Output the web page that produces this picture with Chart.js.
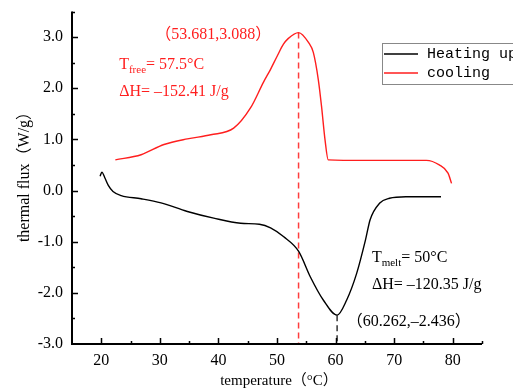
<!DOCTYPE html>
<html>
<head>
<meta charset="utf-8">
<script src="https://cdn.jsdelivr.net/npm/chart.js@4"></script>
<style>
  html, body { margin: 0; padding: 0; background: #fff; }
  #wrap { width: 513px; height: 391px; }
</style>
</head>
<body>
<div id="wrap"><canvas id="dscChart" width="513" height="391"></canvas></div>
<script>
// DSC curves
const heatX = [19.8, 20.1, 20.6, 21.2, 22.0, 23.4, 26.8, 30.2, 34.7, 39.2, 43.8, 47.0, 48.9, 51.1, 53.7, 55.7, 57.9, 60.262, 61.9, 63.6, 65.1, 65.9, 67.5, 69.2, 72.0, 78.0];
const heatY = [0.28, 0.36, 0.25, 0.10, -0.02, -0.10, -0.16, -0.24, -0.41, -0.54, -0.64, -0.66, -0.73, -0.90, -1.19, -1.69, -2.14, -2.436, -2.14, -1.62, -0.97, -0.57, -0.25, -0.15, -0.12, -0.12];

const coolX = [22.4, 26.8, 30.7, 34.7, 38.7, 42.6, 45.5, 47.7, 48.9, 50.0, 51.1, 51.9, 53.681, 55.4, 56.2, 57.05, 57.6, 58.2, 58.75, 65.0, 75.5, 77.7, 79.2, 79.8];
const coolY = [0.60, 0.70, 0.90, 1.01, 1.09, 1.22, 1.62, 2.12, 2.37, 2.62, 2.86, 2.97, 3.088, 2.89, 2.70, 2.17, 1.65, 0.99, 0.60, 0.59, 0.59, 0.50, 0.34, 0.14];

const coolPeak = [53.681, 3.088];
const heatPeak = [60.262, -2.436];

const xRange = [15, 85];
const yRange = [-3.0, 3.5];
const xLabels = [20, 30, 40, 50, 60, 70, 80];
const yLabels = [-3, -2, -1, 0, 1, 2, 3];

const seriesNames = ['Heating up', 'cooling'];
const RED = 'rgb(255, 30, 30)';
const SERIF = '"Liberation Serif", "Noto Sans CJK SC", serif';

function toPoints(xs, ys) {
    return xs.map((x, i) => ({ x: x, y: ys[i] }));
}

// subscript text like T_free
function drawSubText(ctx, x, y, base, sub, rest, color) {
    ctx.fillStyle = color;
    ctx.textBaseline = 'alphabetic';
    ctx.textAlign = 'left';
    ctx.font = '16px ' + SERIF;
    ctx.fillText(base, x, y);
    let w = ctx.measureText(base).width;
    ctx.font = '11px ' + SERIF;
    ctx.fillText(sub, x + w, y + 4);
    w += ctx.measureText(sub).width;
    ctx.font = '16px ' + SERIF;
    ctx.fillText(rest, x + w, y);
}

const decorPlugin = {
    id: 'decor',
    afterDraw(chart) {
        const ctx = chart.ctx;
        const xs = chart.scales.x;
        const ys = chart.scales.y;
        const area = chart.chartArea;
        ctx.save();

        // axes
        ctx.strokeStyle = '#000';
        ctx.lineWidth = 2;
        ctx.beginPath();
        ctx.moveTo(area.left, area.top);
        ctx.lineTo(area.left, area.bottom);
        ctx.lineTo(area.right, area.bottom);
        ctx.stroke();

        // inward ticks
        ctx.lineWidth = 1.5;
        ctx.beginPath();
        for (let v = xRange[0] + 5; v <= xRange[1]; v += 5) {
            const px = Math.round(xs.getPixelForValue(v)) + 0.5;
            const len = v % 10 === 0 ? 6 : 3;
            ctx.moveTo(px, area.bottom);
            ctx.lineTo(px, area.bottom - len);
        }
        for (let v = yRange[0] + 0.5; v <= yRange[1] + 0.001; v += 0.5) {
            const py = Math.round(ys.getPixelForValue(v)) + 0.5;
            const len = Math.abs(v - Math.round(v)) < 0.01 ? 6 : 3;
            ctx.moveTo(area.left, py);
            ctx.lineTo(area.left + len, py);
        }
        ctx.stroke();

        // axis titles
        ctx.fillStyle = '#000';
        ctx.font = '15px ' + SERIF;
        ctx.textAlign = 'center';
        ctx.textBaseline = 'middle';
        ctx.fillText('temperature（°C）', 279, 381);
        ctx.save();
        ctx.translate(25, 173);
        ctx.rotate(-Math.PI / 2);
        ctx.font = '16px ' + SERIF;
        ctx.fillText('thermal flux（W/g）', 0, 0);
        ctx.restore();

        // annotations
        ctx.font = '16px ' + SERIF;
        ctx.textAlign = 'left';
        ctx.textBaseline = 'middle';
        ctx.fillStyle = RED;
        ctx.fillText('（' + coolPeak[0] + ',' + coolPeak[1] + '）', xs.getPixelForValue(29.2), ys.getPixelForValue(3.04));
        drawSubText(ctx, xs.getPixelForValue(23.05), ys.getPixelForValue(2.38), 'T', 'free', '= 57.5°C', RED);
        ctx.textBaseline = 'middle';
        ctx.fillText('ΔH= –152.41 J/g', xs.getPixelForValue(23.05), ys.getPixelForValue(1.94));

        ctx.fillStyle = '#000';
        drawSubText(ctx, xs.getPixelForValue(66.2), ys.getPixelForValue(-1.40), 'T', 'melt', '= 50°C', '#000');
        ctx.textBaseline = 'middle';
        ctx.fillText('ΔH= –120.35 J/g', xs.getPixelForValue(66.2), ys.getPixelForValue(-1.85));
        ctx.fillText('（' + heatPeak[0] + ',–' + Math.abs(heatPeak[1]) + '）', xs.getPixelForValue(61.9), ys.getPixelForValue(-2.57));

        // legend box
        ctx.strokeStyle = '#888';
        ctx.lineWidth = 1;
        ctx.strokeRect(382.5, 43.5, 150, 41);
        const colors = ['#000', RED];
        const rows = [54, 73];
        ctx.font = '15px "Liberation Mono", monospace';
        ctx.textBaseline = 'middle';
        ctx.lineWidth = 1.5;
        seriesNames.forEach((name, i) => {
            ctx.strokeStyle = colors[i];
            ctx.beginPath();
            ctx.moveTo(384, rows[i]);
            ctx.lineTo(418, rows[i]);
            ctx.stroke();
            ctx.fillStyle = '#000';
            ctx.fillText(name, 427, rows[i]);
        });

        ctx.restore();
    }
};

const ctx = document.getElementById('dscChart').getContext('2d');
new Chart(ctx, {
    type: 'scatter',
    data: {
        datasets: [
            {
                label: seriesNames[0],
                data: toPoints(heatX, heatY),
                showLine: true,
                borderColor: '#000',
                borderWidth: 1.4,
                pointRadius: 0,
                cubicInterpolationMode: 'monotone'
            },
            {
                label: seriesNames[1],
                data: toPoints(coolX, coolY),
                showLine: true,
                borderColor: RED,
                borderWidth: 1.4,
                pointRadius: 0,
                cubicInterpolationMode: 'monotone'
            },
            {
                label: 'cool peak',
                data: [{ x: coolPeak[0], y: coolPeak[1] }, { x: coolPeak[0], y: yRange[0] }],
                showLine: true,
                borderColor: 'rgb(255, 60, 60)',
                borderWidth: 1.5,
                borderDash: [6, 4],
                pointRadius: 0
            },
            {
                label: 'heat peak',
                data: [{ x: heatPeak[0], y: heatPeak[1] }, { x: heatPeak[0], y: yRange[0] }],
                showLine: true,
                borderColor: '#333',
                borderWidth: 1.5,
                borderDash: [6, 4],
                pointRadius: 0
            }
        ]
    },
    options: {
        responsive: false,
        animation: false,
        layout: { padding: { left: 0, top: 11.5, right: 31, bottom: 0 } },
        plugins: {
            legend: { display: false },
            tooltip: { enabled: false }
        },
        scales: {
            x: {
                type: 'linear',
                min: xRange[0],
                max: xRange[1],
                grid: { display: false, drawTicks: false },
                border: { display: false },
                afterFit: (scale) => {
                    scale.height = 47;
                    scale.paddingLeft = 0;
                    scale.paddingRight = 0;
                },
                ticks: {
                    stepSize: 5,
                    padding: 7,
                    color: '#000',
                    font: { family: SERIF, size: 16 },
                    callback: (v) => xLabels.includes(v) ? String(v) : ''
                }
            },
            y: {
                min: yRange[0],
                max: yRange[1],
                grid: { display: false, drawTicks: false },
                border: { display: false },
                afterFit: (scale) => {
                    scale.width = 72;
                    scale.paddingTop = 0;
                    scale.paddingBottom = 0;
                },
                ticks: {
                    stepSize: 0.5,
                    padding: 9,
                    color: '#000',
                    font: { family: SERIF, size: 16 },
                    callback: (v) => yLabels.includes(v) ? v.toFixed(1) : ''
                }
            }
        }
    },
    plugins: [decorPlugin]
});
</script>
</body>
</html>
